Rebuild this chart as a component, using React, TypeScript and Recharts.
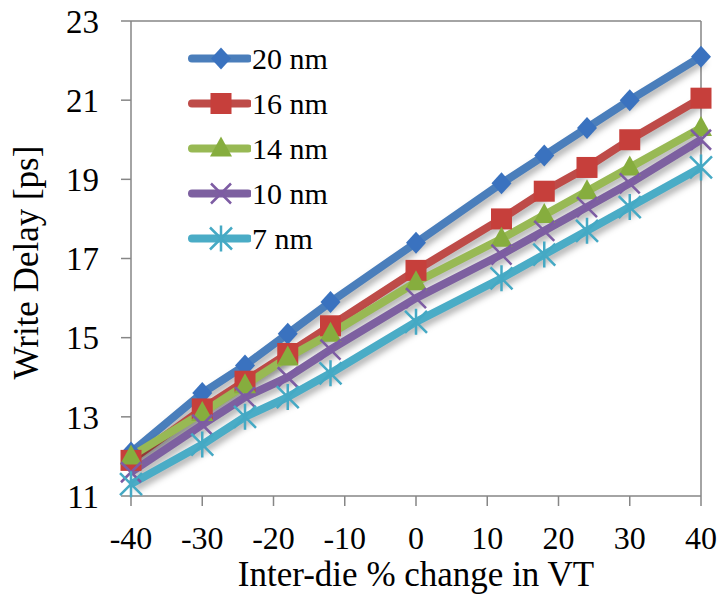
import { LineChart, Line, XAxis, YAxis, Legend, ReferenceLine } from 'recharts';

// x positions (inter-die % change in VT)
const xValues = [-40, -30, -24, -18, -12, 0, 12, 18, 24, 30, 40];

// write delay [ps] per technology node
const nm20 = [12.1, 13.6, 14.3, 15.1, 15.9, 17.4, 18.9, 19.6, 20.3, 21.0, 22.1];
const nm16 = [11.9, 13.2, 13.9, 14.6, 15.3, 16.7, 18.0, 18.7, 19.3, 20.0, 21.05];
const nm14 = [12.0, 13.1, 13.8, 14.5, 15.1, 16.4, 17.5, 18.1, 18.7, 19.3, 20.3];
const nm10 = [11.6, 12.8, 13.5, 14.0, 14.7, 16.0, 17.1, 17.7, 18.3, 18.9, 20.0];
const nm7 = [11.3, 12.3, 13.0, 13.5, 14.1, 15.4, 16.5, 17.1, 17.7, 18.3, 19.3];

const xTicks = [-40, -30, -20, -10, 0, 10, 20, 30, 40];
const yTicks = [11, 13, 15, 17, 19, 21, 23];

type Shape = 'diamond' | 'square' | 'triangle' | 'x' | 'star';

const series: { key: string; name: string; color: string; fill: string; shape: Shape }[] = [
    { key: 'nm20', name: '20 nm', color: '#4a7ebb', fill: '#3a72bf', shape: 'diamond' },
    { key: 'nm16', name: '16 nm', color: '#be4b48', fill: '#c63f3b', shape: 'square' },
    { key: 'nm14', name: '14 nm', color: '#98b954', fill: '#86ad3e', shape: 'triangle' },
    { key: 'nm10', name: '10 nm', color: '#7d60a0', fill: '#7d5ca3', shape: 'x' },
    { key: 'nm7', name: '7 nm', color: '#4aacc6', fill: '#45a9c4', shape: 'star' },
];

const data = xValues.map((x, i) => ({
    x,
    nm20: nm20[i],
    nm16: nm16[i],
    nm14: nm14[i],
    nm10: nm10[i],
    nm7: nm7[i],
}));

const FONT = '"Liberation Serif", "Times New Roman", serif';
const AXIS = '#868686';

const Marker = ({ shape, cx, cy, fill }: { shape: Shape; cx: number; cy: number; fill: string }) => {
    switch (shape) {
        case 'diamond':
            return <polygon points={`${cx},${cy - 11} ${cx + 10},${cy} ${cx},${cy + 11} ${cx - 10},${cy}`} fill={fill} />;
        case 'square':
            return <rect x={cx - 10.5} y={cy - 10.5} width={21} height={21} fill={fill} />;
        case 'triangle':
            return <polygon points={`${cx},${cy - 12} ${cx + 11},${cy + 8} ${cx - 11},${cy + 8}`} fill={fill} />;
        case 'x':
            return (
                <path
                    d={`M${cx - 10},${cy - 10}L${cx + 10},${cy + 10}M${cx + 10},${cy - 10}L${cx - 10},${cy + 10}`}
                    stroke={fill}
                    strokeWidth={2.5}
                    fill="none"
                />
            );
        default:
            return (
                <path
                    d={`M${cx - 11},${cy - 11}L${cx + 11},${cy + 11}M${cx + 11},${cy - 11}L${cx - 11},${cy + 11}M${cx},${cy - 13}L${cx},${cy + 13}`}
                    stroke={fill}
                    strokeWidth={2.5}
                    fill="none"
                />
            );
    }
};

const makeDot = (shape: Shape, fill: string) => (props: any) => {
    const { cx, cy, index } = props;
    if (cx == null || cy == null) return <g key={index} />;
    return (
        <g key={index}>
            <Marker shape={shape} cx={cx} cy={cy} fill={fill} />
        </g>
    );
};

const renderLegend = () => (
    <div style={{ fontFamily: FONT, fontSize: 30, color: '#000' }}>
        {series.map((s) => (
            <div key={s.key} style={{ display: 'flex', alignItems: 'center', height: 45 }}>
                <svg width={64} height={45}>
                    <line x1={5} y1={22.5} x2={61} y2={22.5} stroke={s.color} strokeWidth={8} strokeLinecap="round" />
                    <Marker shape={s.shape} cx={34} cy={22.5} fill={s.fill} />
                </svg>
                <span style={{ marginLeft: 1, lineHeight: '45px', whiteSpace: 'nowrap' }}>{s.name}</span>
            </div>
        ))}
    </div>
);

const XTitle = (props: any) => {
    const { viewBox } = props;
    return (
        <text
            x={viewBox.x + viewBox.width / 2}
            y={viewBox.y + 90}
            textAnchor="middle"
            fontFamily={FONT}
            fontSize={35}
            fill="#000"
        >
            Inter-die % change in VT
        </text>
    );
};

const YTitle = (props: any) => {
    const { viewBox } = props;
    const x = 38;
    const y = viewBox.y + viewBox.height / 2 + 4;
    return (
        <text
            x={x}
            y={y}
            transform={`rotate(-90, ${x}, ${y})`}
            textAnchor="middle"
            fontFamily={FONT}
            fontSize={35}
            fill="#000"
        >
            Write Delay [ps]
        </text>
    );
};

const App = () => {
    return (
        <div style={{ position: 'absolute', left: 0, top: 0, background: '#fff' }}>
            <style>{`.recharts-line { filter: drop-shadow(3px 4px 3px rgba(0,0,0,0.3)); }`}</style>
            <LineChart width={722} height={594} data={data} margin={{ top: 21, right: 21, left: 0, bottom: 0 }}>
                <XAxis
                    dataKey="x"
                    type="number"
                    domain={[-40, 40]}
                    ticks={xTicks}
                    height={98}
                    tickSize={10}
                    tickMargin={20}
                    axisLine={{ stroke: AXIS, strokeWidth: 1.5 }}
                    tickLine={{ stroke: AXIS, strokeWidth: 1.5 }}
                    tick={{ fill: '#000', fontSize: 32, fontFamily: FONT }}
                    label={{ content: XTitle }}
                />
                <YAxis
                    domain={[11, 23]}
                    ticks={yTicks}
                    width={131}
                    tickSize={10}
                    tickMargin={22}
                    axisLine={{ stroke: AXIS, strokeWidth: 1.5 }}
                    tickLine={{ stroke: AXIS, strokeWidth: 1.5 }}
                    tick={{ fill: '#000', fontSize: 33, fontFamily: FONT }}
                    label={{ content: YTitle }}
                />
                <ReferenceLine y={23} stroke={AXIS} strokeWidth={1.5} />
                <ReferenceLine x={40} stroke={AXIS} strokeWidth={1.5} />
                <Legend
                    layout="vertical"
                    align="center"
                    verticalAlign="middle"
                    content={renderLegend}
                    wrapperStyle={{ left: 187, top: 36, width: 170, bottom: 'auto', right: 'auto' }}
                />
                {series.map((s) => (
                    <Line
                        key={s.key}
                        dataKey={s.key}
                        name={s.name}
                        stroke={s.color}
                        strokeWidth={8}
                        strokeLinejoin="round"
                        dot={makeDot(s.shape, s.fill)}
                        activeDot={false}
                        isAnimationActive={false}
                    />
                ))}
            </LineChart>
        </div>
    );
};

export default App;
